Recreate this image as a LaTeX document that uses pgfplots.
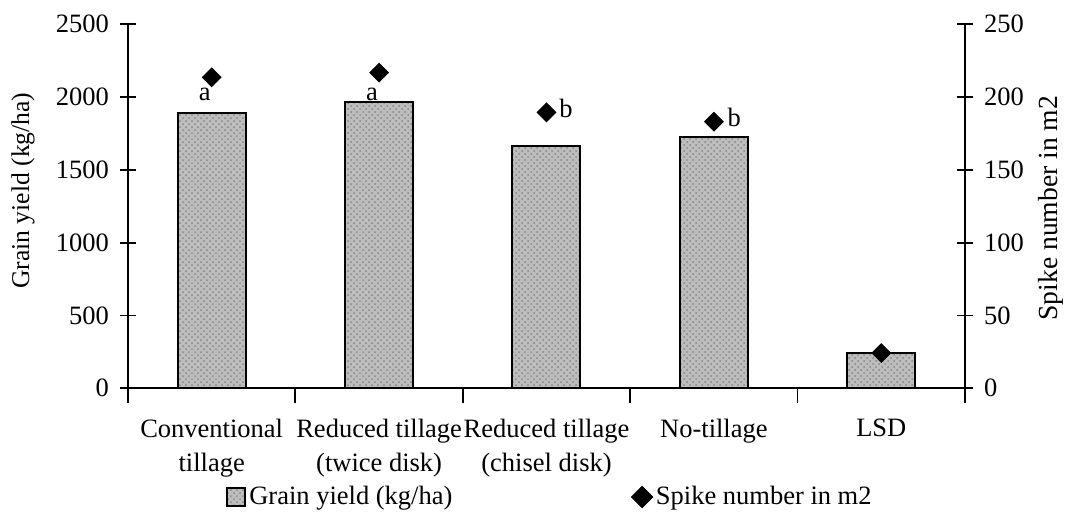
\documentclass[border=0pt]{standalone}
\usepackage{fontspec}
\setmainfont{Liberation Serif}
\usepackage{pgfplots}
\pgfplotsset{compat=1.18}
\usetikzlibrary{patterns}
\pgfplotsset{
  mybarlegend/.style={legend image code/.code={\draw[##1] (0pt,-4.5pt) rectangle (9pt,4.5pt);}},
  mydiamlegend/.style={legend image code/.code={\draw[##1] plot coordinates {(5.5pt,0pt)};}},
}
\begin{document}
\begin{tikzpicture}[font=\fontsize{13.25}{17}\selectfont]
\path[use as bounding box] (-64pt,-61.35pt) rectangle (468.5pt,194.15pt);
\begin{axis}[
  scale only axis, width=418.5pt, height=182pt,
  at={(0,0)}, anchor=south west,
  xmin=-0.5, xmax=4.5, ymin=0, ymax=2500,
  axis x line*=bottom, axis y line*=left,
  axis line style={line width=0.9pt},
  ytick={0,500,...,2500},
  xtick={0,1,2,3,4},
  xticklabels={{Conventional\\tillage},{Reduced tillage\\(twice disk)},{Reduced tillage\\(chisel disk)},{No-tillage},{LSD}},
  xticklabel style={align=center, anchor=north, yshift=-4pt},
  major x tick style={draw=none},
  minor xtick={-0.5,0.5,...,4.5},
  minor tick length=7.5pt,
  major tick length=8pt,
  tick align=center,
  tick style={line width=0.9pt, black},
  /pgf/number format/assume math mode=true,
  /pgf/number format/1000 sep={},
  yticklabel style={xshift=-2pt},
  ylabel={Grain yield (kg/ha)},
  ylabel style={at={(axis description cs:-0.1254,0.543)}, anchor=center, rotate=0, font=\fontsize{12.8}{15}\selectfont},
  ybar, bar width=34pt,
  legend style={at={(axis description cs:0.117,-0.2986)}, anchor=west, draw=none, fill=none, inner sep=0pt,
    nodes={inner sep=1.5pt},
    /tikz/every even column/.append style={column sep=88pt}},
  legend columns=2,
  legend cell align=left,
]
\addplot[draw=black, line width=1pt, fill=gray!52,
  postaction={pattern=crosshatch dots, pattern color=gray!95},
  mybarlegend]
  coordinates {(0,1893) (1,1966) (2,1666) (3,1727) (4,240)};
\addlegendentry{Grain yield (kg/ha)}
\addlegendimage{only marks, mark=square*, mark options={rotate=45, fill=black}, mark size=3.8pt, mydiamlegend}
\addlegendentry{Spike number in m2}
\node[anchor=base, inner sep=0pt] at (axis cs:-0.042,1980) {a};
\node[anchor=base, inner sep=0pt] at (axis cs:0.958,1980) {a};
\end{axis}
\begin{axis}[
  scale only axis, width=418.5pt, height=182pt,
  at={(0,0)}, anchor=south west,
  xmin=-0.5, xmax=4.5, ymin=0, ymax=250,
  axis x line=none, axis y line*=right,
  axis line style={line width=0.9pt},
  ytick={0,50,...,250},
  major tick length=8pt,
  tick align=center,
  tick style={line width=0.9pt, black},
  /pgf/number format/assume math mode=true,
  yticklabel style={xshift=2pt},
  ylabel={Spike number in m2},
  ylabel style={at={(axis description cs:1.1027,0.495)}, anchor=center, rotate=0, font=\fontsize{13.8}{16}\selectfont},
]
\addplot[only marks, mark=square*, mark options={rotate=45, fill=black}, mark size=3.3pt]
  coordinates {(0,213.6) (1,216.8) (2,189.5) (3,183.1) (4,24.2)};
\node[anchor=base west, inner sep=0pt] at (axis cs:2.075,186) {b};
\node[anchor=base west, inner sep=0pt] at (axis cs:3.08,179.5) {b};
\end{axis}
\end{tikzpicture}
\end{document}
